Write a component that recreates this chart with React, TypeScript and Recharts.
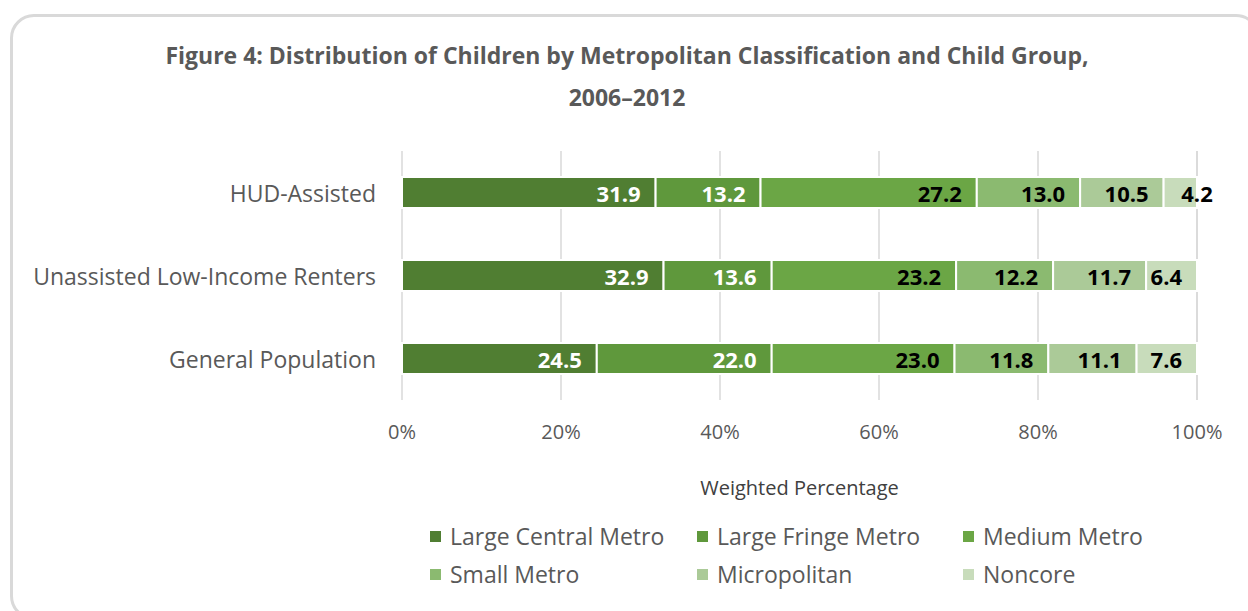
import React from 'react';
import { BarChart, Bar, XAxis, YAxis, CartesianGrid, LabelList, Legend, Label } from 'recharts';

const categories = ['HUD-Assisted', 'Unassisted Low-Income Renters', 'General Population'];
const seriesNames = ['Large Central Metro', 'Large Fringe Metro', 'Medium Metro', 'Small Metro', 'Micropolitan', 'Noncore'];
const largeCentral = [31.9, 32.9, 24.5];
const largeFringe = [13.2, 13.6, 22.0];
const medium = [27.2, 23.2, 23.0];
const small = [13.0, 12.2, 11.8];
const micropolitan = [10.5, 11.7, 11.1];
const noncore = [4.2, 6.4, 7.6];
const xTicks = [0, 20, 40, 60, 80, 100];

const seriesValues = [largeCentral, largeFringe, medium, small, micropolitan, noncore];
const colors = ['#507E32', '#5F983C', '#6BA645', '#8BBA70', '#ABCA98', '#C8DCBB'];
const labelColors = ['#FFFFFF', '#FFFFFF', '#000000', '#000000', '#000000', '#000000'];
const keys = ['s0', 's1', 's2', 's3', 's4', 's5'];

const data = categories.map((c, i) => {
  const row: any = { name: c };
  keys.forEach((k, j) => { row[k] = seriesValues[j][i]; });
  return row;
});

const FONT = '"Open Sans", sans-serif';
const GREY = '#595959';

const makeLabel = (color: string) => (props: any) => {
  const { x, y, width, height, value } = props;
  const txt = Number(value).toFixed(1);
  const estW = txt.length * 11.5;
  let tx = x + width - 15;
  let anchor: any = 'end';
  if (width < estW + 8) {
    tx = x + width;
    anchor = 'middle';
  }
  return (
    <text x={tx} y={y + height / 2} textAnchor={anchor} dominantBaseline="central"
      fill={color} fontFamily={FONT} fontWeight={700} fontSize={22}>
      {txt}
    </text>
  );
};

const YTick = (props: any) => {
  const { x, y, payload } = props;
  return (
    <text x={x - 18} y={y} textAnchor="end" dominantBaseline="central" fill={GREY}
      fontFamily={FONT} fontSize={23}>
      {payload.value}
    </text>
  );
};

const XTick = (props: any) => {
  const { x, y, payload } = props;
  return (
    <text x={x} y={y + 23} textAnchor="middle" dominantBaseline="central" fill={GREY}
      fontFamily={FONT} fontSize={20}>
      {payload.value}%
    </text>
  );
};

const LegendContent = () => {
  const colX = [430, 697, 963];
  return (
    <div style={{ position: 'relative', width: 1248, height: 91 }}>
      {seriesNames.map((n, i) => {
        const col = i % 3;
        const row = Math.floor(i / 3);
        return (
          <div key={n} style={{ position: 'absolute', left: colX[col], top: row * 38 + 22, display: 'flex', alignItems: 'center', height: 28 }}>
            <div style={{ width: 11, height: 11, background: colors[i], marginRight: 9 }} />
            <span style={{ fontFamily: FONT, fontSize: 23, color: GREY, whiteSpace: 'nowrap' }}>{n}</span>
          </div>
        );
      })}
    </div>
  );
};

export default function App() {
  return (
    <div style={{ position: 'absolute', left: 0, top: 0, width: 1248, height: 611, overflow: 'hidden', background: '#fff' }}>
      <div style={{ position: 'absolute', left: 10, top: 14, width: 1244, height: 600, border: '3px solid #D9D9D9', borderRadius: 24 }} />
      <div style={{ position: 'absolute', left: 0, top: 34, width: 1254, textAlign: 'center', fontFamily: FONT, fontWeight: 700, fontSize: 23, color: GREY, lineHeight: '42px' }}>
        Figure 4: Distribution of Children by Metropolitan Classification and Child Group,<br />2006–2012
      </div>
      <div style={{ position: 'absolute', left: 0, top: 0 }}>
        <BarChart width={1248} height={611} data={data} layout="vertical"
          margin={{ top: 151, right: 51, bottom: 20, left: 22 }} barSize={31}>
          <CartesianGrid horizontal={false} vertical={true} stroke="#D9D9D9" strokeWidth={1.5} />
          <XAxis type="number" domain={[0, 100]} ticks={xTicks} axisLine={false} tickLine={false}
            height={100} tick={<XTick />} interval={0}>
            <Label value="Weighted Percentage" position="bottom" offset={-19}
              style={{ fontFamily: FONT, fontSize: 20, fill: '#404040' }} />
          </XAxis>
          <YAxis type="category" dataKey="name" width={380} axisLine={false} tickLine={false} tick={<YTick />} />
          <Legend verticalAlign="bottom" content={<LegendContent />} wrapperStyle={{ height: 91, left: 0, width: 1248 }} />
          {keys.map((k, i) => (
            <Bar key={k} dataKey={k} name={seriesNames[i]} stackId="a" fill={colors[i]} stroke="#FFFFFF" strokeWidth={2} isAnimationActive={false}>
              <LabelList dataKey={k} content={makeLabel(labelColors[i])} />
            </Bar>
          ))}
        </BarChart>
      </div>
    </div>
  );
}
